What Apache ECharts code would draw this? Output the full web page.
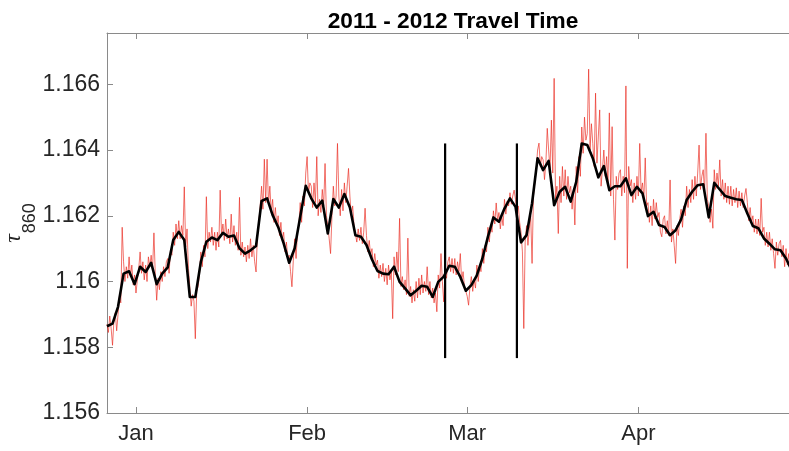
<!DOCTYPE html>
<html>
<head>
<meta charset="utf-8">
<script src="https://cdn.jsdelivr.net/npm/echarts@6/dist/echarts.min.js"></script>
<style>html,body{margin:0;padding:0;background:#fff}#c{width:789px;height:451px}</style>
</head>
<body>
<div id="c"></div>
<script>
// ---- data ----
const titleText = '2011 - 2012 Travel Time';
const firstDay = '2011-12-26T18:00:00Z';   // first daily sample
const axisStart = '2011-12-26T18:00:00Z';
const axisEnd = '2012-04-28T07:00:00Z';
const monthTicks = ['2012-01-01T00:00:00Z', '2012-02-01T00:00:00Z', '2012-03-01T00:00:00Z', '2012-04-01T00:00:00Z'];
const monthLabels = ['Jan', 'Feb', 'Mar', 'Apr'];
const yTicks = [1.156, 1.158, 1.16, 1.162, 1.164, 1.166];
const yTickLabels = ['1.156', '1.158', '1.16', '1.162', '1.164', '1.166'];
const yMin = 1.156, yMax = 1.16756;

// daily mean (black)
const dailyMean = [
1.15864,1.15872,1.15923,1.16024,1.16031,1.15992,1.16045,1.16029,1.16057,1.15992,
1.16024,1.16043,1.16126,1.16151,1.16126,1.15953,1.15953,1.16060,1.16121,1.16134,
1.16126,1.16148,1.16136,1.16140,1.16101,1.16085,1.16095,1.16108,1.16245,1.16253,
1.16202,1.16166,1.16116,1.16057,1.16101,1.16197,1.16291,1.16253,1.16225,1.16246,
1.16146,1.16251,1.16225,1.16266,1.16225,1.16141,1.16136,1.16111,1.16067,1.16032,
1.16024,1.16022,1.16045,1.15999,1.15979,1.15958,1.15972,1.15987,1.15984,1.15953,
1.15999,1.16015,1.16048,1.16045,1.16014,1.15972,1.15989,1.16019,1.16070,1.16136,
1.16195,1.16182,1.16222,1.16253,1.16227,1.16119,1.16141,1.16238,1.16375,1.16339,
1.16367,1.16232,1.16273,1.16288,1.16243,1.16303,1.16420,1.16415,1.16375,1.16317,
1.16351,1.16278,1.16290,1.16290,1.16314,1.16263,1.16288,1.16268,1.16199,1.16212,
1.16172,1.16166,1.16141,1.16156,1.16189,1.16248,1.16273,1.16293,1.16296,1.16195,
1.16300,1.16280,1.16260,1.16255,1.16250,1.16248,1.16207,1.16169,1.16162,1.16131,
1.16115,1.16098,1.16095,1.16070,1.16035
];

// 6-hourly values (red)
const sixHourly = [
1.15870,1.15845,1.15895,1.15858, 1.15806,1.15880,1.15905,1.15850, 1.15900,1.15955,1.15935,1.16165,
1.16060,1.16000,1.16045,1.16010, 1.16075,1.16015,1.16050,1.15990, 1.16020,1.15965,1.16005,1.16040,
1.16090,1.16025,1.16060,1.16005, 1.16050,1.16000,1.16075,1.16045, 1.16080,1.16035,1.16148,1.16020,
1.15943,1.16010,1.15975,1.16030, 1.16000,1.16045,1.16015,1.16060, 1.16070,1.16025,1.16095,1.16080,
1.16150,1.16110,1.16175,1.16130, 1.16185,1.16130,1.16170,1.16140, 1.16288,1.16105,1.16160,1.16040,
1.15985,1.15925,1.15960,1.15940, 1.15826,1.15970,1.15985,1.16020, 1.16090,1.16045,1.16110,1.16075,
1.16258,1.16100,1.16150,1.16120, 1.16165,1.16110,1.16150,1.16095, 1.16150,1.16105,1.16278,1.16140,
1.16175,1.16125,1.16190,1.16130, 1.16160,1.16115,1.16205,1.16120, 1.16170,1.16110,1.16150,1.16095,
1.16256,1.16080,1.16120,1.16075, 1.16105,1.16060,1.16110,1.16070, 1.16130,1.16075,1.16110,1.16060,
1.16029,1.16140,1.16180,1.16230, 1.16290,1.16220,1.16372,1.16240, 1.16372,1.16235,1.16290,1.16210,
1.16250,1.16180,1.16225,1.16170, 1.16200,1.16140,1.16180,1.16125, 1.16150,1.16090,1.16120,1.16070,
1.16080,1.16030,1.15984,1.16065, 1.16130,1.16070,1.16150,1.16170, 1.16240,1.16180,1.16260,1.16230,
1.16330,1.16380,1.16270,1.16300, 1.16290,1.16225,1.16300,1.16240, 1.16380,1.16200,1.16250,1.16210,
1.16280,1.16230,1.16359,1.16200, 1.16170,1.16130,1.16085,1.16200, 1.16290,1.16230,1.16260,1.16420,
1.16260,1.16200,1.16280,1.16215, 1.16300,1.16240,1.16290,1.16344, 1.16260,1.16200,1.16230,1.16170,
1.16175,1.16120,1.16160,1.16125, 1.16165,1.16115,1.16150,1.16223, 1.16140,1.16090,1.16125,1.16080,
1.16100,1.16045,1.16085,1.16050, 1.16065,1.16010,1.16050,1.16015, 1.16055,1.16000,1.16040,1.15990,
1.16050,1.16005,1.16030,1.15887, 1.16075,1.16020,1.16090,1.16030, 1.16192,1.15985,1.16015,1.15975,
1.16005,1.15960,1.16132,1.15955, 1.15985,1.15935,1.15975,1.15940, 1.16000,1.15950,1.16010,1.15960,
1.16020,1.15965,1.16000,1.15970, 1.16045,1.15960,1.16000,1.15950, 1.15980,1.15935,1.15965,1.15908,
1.16020,1.15980,1.16085,1.16000, 1.15938,1.16040,1.16010,1.16060, 1.16075,1.16030,1.16070,1.16025,
1.16070,1.16020,1.16060,1.16030, 1.16085,1.16000,1.16030,1.15985, 1.15990,1.15955,1.15928,1.15985,
1.16015,1.15970,1.16005,1.15980, 1.16050,1.16000,1.16045,1.16030, 1.16100,1.16055,1.16110,1.16090,
1.16165,1.16120,1.16170,1.16150, 1.16215,1.16175,1.16239,1.16185, 1.16210,1.16160,1.16200,1.16170,
1.16250,1.16205,1.16245,1.16230, 1.16270,1.16235,1.16260,1.16278, 1.16250,1.16205,1.16230,1.16180,
1.16150,1.16090,1.15857,1.16120, 1.16170,1.16110,1.16160,1.16200, 1.16055,1.16260,1.16300,1.16340,
1.16400,1.16421,1.16350,1.16380, 1.16370,1.16310,1.16360,1.16466, 1.16400,1.16340,1.16491,1.16330,
1.16618,1.16250,1.16290,1.16146, 1.16320,1.16240,1.16350,1.16260, 1.16340,1.16250,1.16320,1.16270,
1.16290,1.16220,1.16280,1.16172, 1.16350,1.16270,1.16380,1.16320, 1.16470,1.16390,1.16500,1.16430,
1.16450,1.16646,1.16400,1.16480, 1.16420,1.16350,1.16573,1.16360, 1.16360,1.16522,1.16290,1.16340,
1.16400,1.16320,1.16380,1.16300, 1.16513,1.16260,1.16471,1.16250, 1.16126,1.16320,1.16280,1.16330,
1.16340,1.16260,1.16320,1.16270, 1.16595,1.16040,1.16350,1.16290, 1.16310,1.16240,1.16300,1.16250,
1.16320,1.16260,1.16420,1.16270, 1.16300,1.16250,1.16376,1.16230, 1.16240,1.16180,1.16230,1.16170,
1.16250,1.16190,1.16240,1.16195, 1.16210,1.16150,1.16136,1.16190, 1.16200,1.16145,1.16185,1.16140,
1.16309,1.16120,1.16160,1.16110, 1.16055,1.16170,1.16140,1.16190, 1.16220,1.16165,1.16230,1.16200,
1.16290,1.16225,1.16280,1.16240, 1.16310,1.16250,1.16320,1.16260, 1.16330,1.16415,1.16280,1.16320,
1.16340,1.16270,1.16451,1.16250, 1.16230,1.16180,1.16220,1.16162, 1.16340,1.16280,1.16330,1.16290,
1.16370,1.16260,1.16310,1.16250, 1.16300,1.16240,1.16290,1.16235, 1.16290,1.16230,1.16280,1.16240,
1.16285,1.16225,1.16275,1.16230, 1.16270,1.16225,1.16260,1.16283, 1.16240,1.16185,1.16225,1.16180,
1.16200,1.16150,1.16190,1.16145, 1.16190,1.16140,1.16253,1.16150, 1.16165,1.16110,1.16150,1.16105,
1.16150,1.16095,1.16130,1.16085, 1.16040,1.16120,1.16080,1.16115, 1.16125,1.16075,1.16110,1.16045,
1.16100,1.16050,1.16085,1.16040
];

// event markers (vertical lines)
const eventDates = ['2012-02-26T00:00:00Z', '2012-03-10T00:00:00Z'];
const eventLow = 1.15767, eventHigh = 1.16420;

// ---- build ----
const DAY = 86400000;
const t0 = Date.parse(firstDay);
const blackData = dailyMean.map((v, k) => [t0 + k * DAY, v]);
const redData = sixHourly.map((v, j) => [t0 + j * DAY / 4, v]);
const monthTs = monthTicks.map(s => Date.parse(s));
const FONT = '"Liberation Sans", Arial, Helvetica, sans-serif';
const AX = '#8a8a8a';
const TXT = '#262626';

const eventSeries = eventDates.map(d => ({
  type: 'line', xAxisIndex: 0, yAxisIndex: 0, symbol: 'none', silent: true,
  data: [[Date.parse(d), eventLow], [Date.parse(d), eventHigh]],
  lineStyle: { color: '#000', width: 2.2 }, z: 4
}));

function monthLabel(v) {
  let best = 0;
  monthTs.forEach((t, i) => { if (Math.abs(t - v) < Math.abs(monthTs[best] - v)) best = i; });
  return Math.abs(monthTs[best] - v) < DAY ? monthLabels[best] : '';
}

const chart = echarts.init(document.getElementById('c'), null, { renderer: 'canvas' });
chart.setOption({
  animation: false,
  backgroundColor: '#fff',
  title: {
    text: titleText, left: 448, top: 5, textAlign: 'center',
    textStyle: { fontFamily: FONT, fontSize: 22.7, fontWeight: 'bold', color: '#000' }
  },
  grid: { left: 107, right: 0, top: 33, bottom: 38, containLabel: false, outerBoundsMode: 'none' },
  xAxis: [{
    type: 'value', min: Date.parse(axisStart), max: Date.parse(axisEnd),
    position: 'bottom', scale: true,
    axisLine: { show: true, onZero: false, lineStyle: { color: AX, width: 1 } },
    axisTick: { show: true, inside: true, length: 6, customValues: monthTs, lineStyle: { color: AX } },
    axisLabel: {
      show: true, customValues: monthTs, margin: 10, color: TXT, fontFamily: FONT, fontSize: 22,
      formatter: monthLabel
    },
    splitLine: { show: false }
  }, {
    type: 'value', min: Date.parse(axisStart), max: Date.parse(axisEnd),
    position: 'top', scale: true,
    axisLine: { show: true, onZero: false, lineStyle: { color: AX, width: 1 } },
    axisTick: { show: true, inside: true, length: 6, customValues: monthTs, lineStyle: { color: AX } },
    axisLabel: { show: false },
    splitLine: { show: false }
  }],
  yAxis: [{
    type: 'value', min: yMin, max: yMax, scale: true,
    axisLine: { show: true, onZero: false, lineStyle: { color: AX, width: 1 } },
    axisTick: { show: true, inside: true, length: 6, customValues: yTicks, lineStyle: { color: AX } },
    axisLabel: {
      show: true, customValues: yTicks, margin: 7, color: TXT, fontFamily: FONT, fontSize: 23,
      formatter: (v) => {
        let best = 0;
        yTicks.forEach((t, i) => { if (Math.abs(t - v) < Math.abs(yTicks[best] - v)) best = i; });
        return yTickLabels[best];
      }
    },
    splitLine: { show: false },
    name: '{t|τ}{s|860}',
    nameLocation: 'middle', nameRotate: 90, nameGap: 68, nameMoveOverlap: false,
    nameTextStyle: {
      color: TXT, fontFamily: FONT,
      rich: {
        t: { fontSize: 24, fontFamily: '"Liberation Serif", "DejaVu Serif", serif', fontStyle: 'italic', color: TXT, padding: [0, 1, 13, 0], verticalAlign: 'bottom' },
        s: { fontSize: 18, fontFamily: FONT, color: TXT, verticalAlign: 'bottom' }
      }
    }
  }],
  series: [{
    type: 'line', data: redData, symbol: 'none', silent: true,
    lineStyle: { color: 'rgba(235,45,35,0.68)', width: 1 }, z: 2
  }, {
    type: 'line', data: blackData, symbol: 'none', silent: true,
    lineStyle: { color: '#000', width: 2.6, join: 'round' }, z: 3
  }].concat(eventSeries)
});
</script>
</body>
</html>
